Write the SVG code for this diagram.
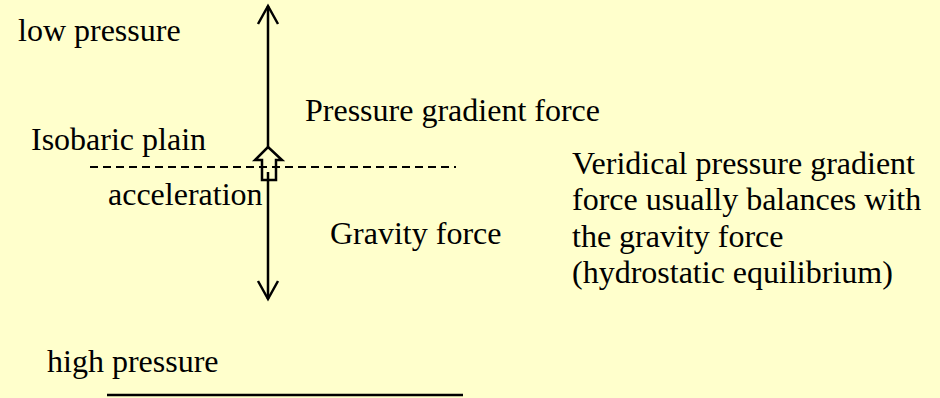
<svg xmlns="http://www.w3.org/2000/svg" width="940" height="398" viewBox="0 0 940 398">
<style>
.ln{stroke:#000;stroke-width:2.5;fill:none}
</style>
<rect width="940" height="398" fill="#FFFFCC"/>
<g id="connectors">
<line x1="90" y1="167" x2="456" y2="167" stroke="#000" stroke-width="2" stroke-dasharray="8,5"/>
<line class="ln" x1="268" y1="147" x2="268" y2="6"/>
<polyline class="ln" points="258,24 268,6 278,24"/>
<line class="ln" x1="268" y1="172" x2="268" y2="299"/>
<polyline class="ln" points="258,281 268,299 278,281"/>
<line x1="107" y1="395" x2="463" y2="395" stroke="#000" stroke-width="2.5"/>
</g>
<g id="acceleration-arrow">
<polygon points="268,147 282,160 276,160 276,180 262,180 262,160 255,160" fill="none" stroke="#000" stroke-width="2.5" stroke-linejoin="miter"/>
</g>
<g font-family="Liberation Serif, Times New Roman, DejaVu Serif, serif" font-size="32" fill="#000">
<g id="labels">
<text x="18" y="41">low pressure</text>
<text x="305" y="121">Pressure gradient force</text>
<text x="31" y="150">Isobaric plain</text>
<text x="108" y="205">acceleration</text>
<text x="330" y="244">Gravity force</text>
<text x="47" y="372">high pressure</text>
</g>
<g id="note">
<text x="572" y="174">Veridical pressure gradient</text>
<text x="572" y="210">force usually balances with</text>
<text x="572" y="247">the gravity force</text>
<text x="572" y="283">(hydrostatic equilibrium)</text>
</g>
</g>
</svg>
